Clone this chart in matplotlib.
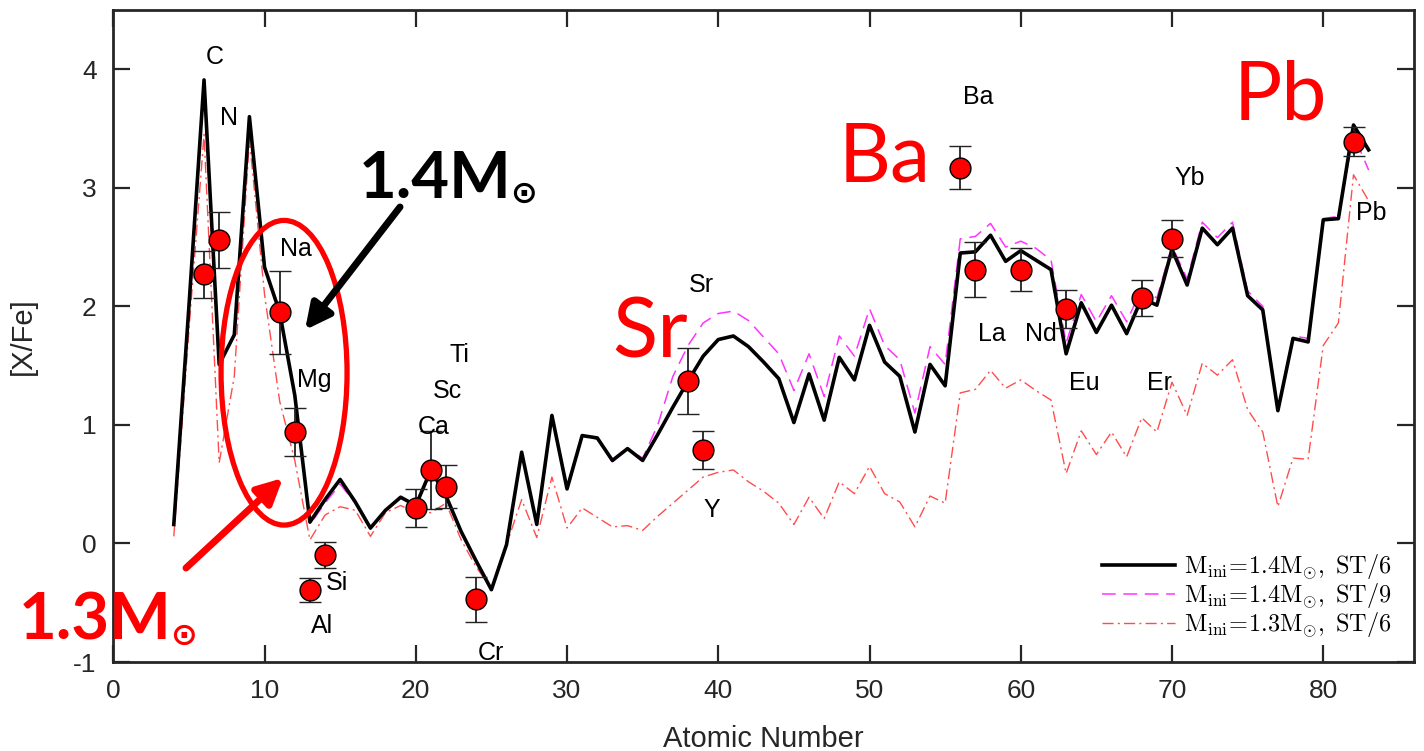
import numpy as np
import matplotlib
matplotlib.use("Agg")
import matplotlib.pyplot as plt
from matplotlib.patches import Ellipse

plt.rcParams['font.family'] = ['Liberation Sans', 'DejaVu Sans']
plt.rcParams['mathtext.fontset'] = 'cm'
plt.rcParams['axes.unicode_minus'] = False

# ======================
# DATA
# ======================
Z_model = np.arange(4, 84)

# M_ini = 1.4 Msun, ST/6
xfe_14_st6 = [0.16, 2.00, 3.91, 1.51, 1.76, 3.60, 2.33, 1.95, 1.25, 0.18,
              0.37, 0.54, 0.35, 0.13, 0.28, 0.39, 0.32, 0.62, 0.40, 0.10,
              -0.15, -0.39, -0.01, 0.77, 0.16, 1.08, 0.46, 0.91, 0.89, 0.70,
              0.80, 0.70, 0.92, 1.15, 1.37, 1.58, 1.72, 1.75, 1.66, 1.53,
              1.39, 1.02, 1.43, 1.04, 1.57, 1.38, 1.84, 1.53, 1.41, 0.94,
              1.51, 1.33, 2.45, 2.46, 2.60, 2.38, 2.47, 2.39, 2.31, 1.60,
              2.03, 1.78, 2.01, 1.77, 2.07, 2.01, 2.48, 2.18, 2.66, 2.52,
              2.66, 2.09, 1.97, 1.12, 1.73, 1.70, 2.73, 2.74, 3.53, 3.32]

# M_ini = 1.4 Msun, ST/9
xfe_14_st9 = [0.16, 2.00, 3.88, 1.50, 1.76, 3.57, 2.32, 1.95, 1.24, 0.16,
              0.34, 0.50, 0.34, 0.12, 0.28, 0.38, 0.32, 0.60, 0.39, 0.10,
              -0.15, -0.38, -0.01, 0.77, 0.16, 1.08, 0.46, 0.91, 0.88, 0.69,
              0.80, 0.72, 1.00, 1.41, 1.67, 1.86, 1.94, 1.96, 1.88, 1.74,
              1.60, 1.29, 1.60, 1.24, 1.75, 1.58, 1.98, 1.67, 1.55, 1.10,
              1.66, 1.51, 2.57, 2.59, 2.70, 2.50, 2.55, 2.49, 2.39, 1.69,
              2.10, 1.87, 2.09, 1.87, 2.15, 2.07, 2.51, 2.23, 2.71, 2.58,
              2.71, 2.13, 2.00, 1.14, 1.75, 1.73, 2.74, 2.76, 3.45, 3.15]

# M_ini = 1.3 Msun, ST/6
xfe_13_st6 = [0.06, 1.80, 3.45, 0.68, 1.41, 3.41, 2.10, 1.20, 0.70, 0.03,
              0.24, 0.31, 0.28, 0.06, 0.26, 0.32, 0.26, 0.26, 0.34, 0.03,
              -0.20, -0.38, -0.01, 0.37, 0.05, 0.56, 0.13, 0.30, 0.22, 0.14,
              0.15, 0.11, 0.23, 0.34, 0.45, 0.56, 0.60, 0.62, 0.52, 0.44,
              0.34, 0.16, 0.39, 0.21, 0.52, 0.42, 0.65, 0.42, 0.35, 0.14,
              0.40, 0.34, 1.27, 1.30, 1.46, 1.31, 1.38, 1.29, 1.21, 0.59,
              0.95, 0.75, 0.94, 0.73, 1.06, 0.94, 1.36, 1.08, 1.52, 1.42,
              1.55, 1.13, 0.94, 0.31, 0.72, 0.71, 1.67, 1.86, 3.11, 2.89]

# observed abundances
obs_Z = [6, 7, 11, 12, 13, 14, 20, 21, 22, 24, 38, 39, 56, 57, 60, 63, 68, 70, 82]
obs_xfe = [2.27, 2.56, 1.95, 0.94, -0.39, -0.10, 0.30, 0.62, 0.48, -0.47,
           1.37, 0.79, 3.17, 2.31, 2.31, 1.98, 2.07, 2.57, 3.39]
obs_err = [0.20, 0.24, 0.35, 0.20, 0.10, 0.11, 0.16, 0.33, 0.18, 0.19,
           0.28, 0.16, 0.18, 0.235, 0.18, 0.16, 0.155, 0.155, 0.12]

# element labels
el_names = ['C', 'N', 'Na', 'Mg', 'Si', 'Al', 'Ca', 'Sc', 'Ti', 'Cr',
            'Sr', 'Y', 'Ba', 'La', 'Nd', 'Eu', 'Er', 'Yb', 'Pb']
el_x = [6.7, 7.65, 12.1, 13.3, 14.8, 13.8, 21.2, 22.1, 22.9, 25.0,
        38.9, 39.6, 57.2, 58.1, 61.3, 64.2, 69.2, 71.2, 83.2]
el_y = [4.10, 3.59, 2.48, 1.38, -0.33, -0.70, 0.98, 1.29, 1.59, -0.92,
        2.18, 0.28, 3.77, 1.77, 1.77, 1.35, 1.35, 3.08, 2.79]

labels = [r'$\mathrm{M_{ini}\!=\!1.4M_{\odot},\ ST/6}$',
          r'$\mathrm{M_{ini}\!=\!1.4M_{\odot},\ ST/9}$',
          r'$\mathrm{M_{ini}\!=\!1.3M_{\odot},\ ST/6}$']

# ======================
# FIGURE
# ======================
W, H = 1424, 751
fig = plt.figure(figsize=(W / 100, H / 100), dpi=100)
ax = fig.add_axes([113.3 / W, 1 - 662 / H, 1300.7 / W, 652 / H])

ax.plot(Z_model, xfe_14_st6, '-', color='k', lw=2.6, label=labels[0], zorder=3)
ax.plot(Z_model, xfe_14_st9, '--', color='#ff33ff', lw=1.1, dashes=(9, 5),
        label=labels[1], zorder=2)
ax.plot(Z_model, xfe_13_st6, '-.', color='#ff4d4d', lw=1.0, dashes=(8, 3, 1.5, 3),
        label=labels[2], zorder=2)

ax.errorbar(obs_Z, obs_xfe, yerr=obs_err, fmt='o', ms=15, mfc='#ff0000',
            mec='k', mew=1.0, ecolor='#222222', elinewidth=1.3, capsize=8,
            capthick=1.3, zorder=5)

for name, x, y in zip(el_names, el_x, el_y):
    ax.text(x, y, name, fontsize=18, ha='center', va='center', color='k', zorder=6)

ax.set_xlim(0, 86)
ax.set_ylim(-1, 4.5)
ax.set_xticks(np.arange(0, 81, 10))
ax.set_yticks(np.arange(-1, 5, 1))
ax.tick_params(direction='in', length=12, width=1.6, top=True, right=True,
               labelsize=19, colors='#262626', pad=12)
for s in ax.spines.values():
    s.set_linewidth(2.0)
    s.set_color('#262626')
ax.set_xlabel('Atomic Number', fontsize=21, color='#262626', labelpad=16)
ax.set_ylabel('[X/Fe]', fontsize=21, color='#262626', labelpad=26)

leg = ax.legend(loc='lower right', bbox_to_anchor=(0.99, 0.02), frameon=False,
                fontsize=17.5, handlelength=3.0, handletextpad=0.35,
                labelspacing=0.0, borderaxespad=0)

# ======================
# ANNOTATIONS
# ======================
def fp(px, py):
    return (px / W, 1 - py / H)

ell = Ellipse((11.29, 1.44), 8.33, 2.57, fill=False, ec='#ff0000', lw=3.8, zorder=7)
ax.add_patch(ell)

ax.annotate('', xy=fp(305, 330), xytext=fp(400, 207), xycoords='figure fraction',
            textcoords='figure fraction',
            arrowprops=dict(arrowstyle='-|>', lw=5, color='k', mutation_scale=38,
                            shrinkA=0, shrinkB=0), zorder=8)
ax.annotate('', xy=fp(283, 478), xytext=fp(186, 568), xycoords='figure fraction',
            textcoords='figure fraction',
            arrowprops=dict(arrowstyle='-|>', lw=5, color='#ff0000', mutation_scale=38,
                            shrinkA=0, shrinkB=0), zorder=8)

big = dict(family=['Lato', 'DejaVu Sans'], fontweight='bold')
fig.text(*fp(512, 198), '1.4M', fontsize=47, color='k', ha='right', va='baseline', **big)
fig.text(*fp(510, 203), '\u2299', fontsize=23, color='k', ha='left', va='baseline',
         family='DejaVu Sans', fontweight='bold')
fig.text(*fp(172, 640), '1.3M', fontsize=47, color='#ff0000', ha='right', va='baseline', **big)
fig.text(*fp(170, 645), '\u2299', fontsize=23, color='#ff0000', ha='left', va='baseline',
         family='DejaVu Sans', fontweight='bold')

red_big = dict(family=['Lato', 'DejaVu Sans'], color='#ff0000', ha='center', va='baseline')
fig.text(*fp(650, 357), 'Sr', fontsize=60, **red_big)
fig.text(*fp(885, 182), 'Ba', fontsize=58, **red_big)
fig.text(*fp(1280, 120), 'Pb', fontsize=58, **red_big)

fig.savefig('out.png', dpi=100)
